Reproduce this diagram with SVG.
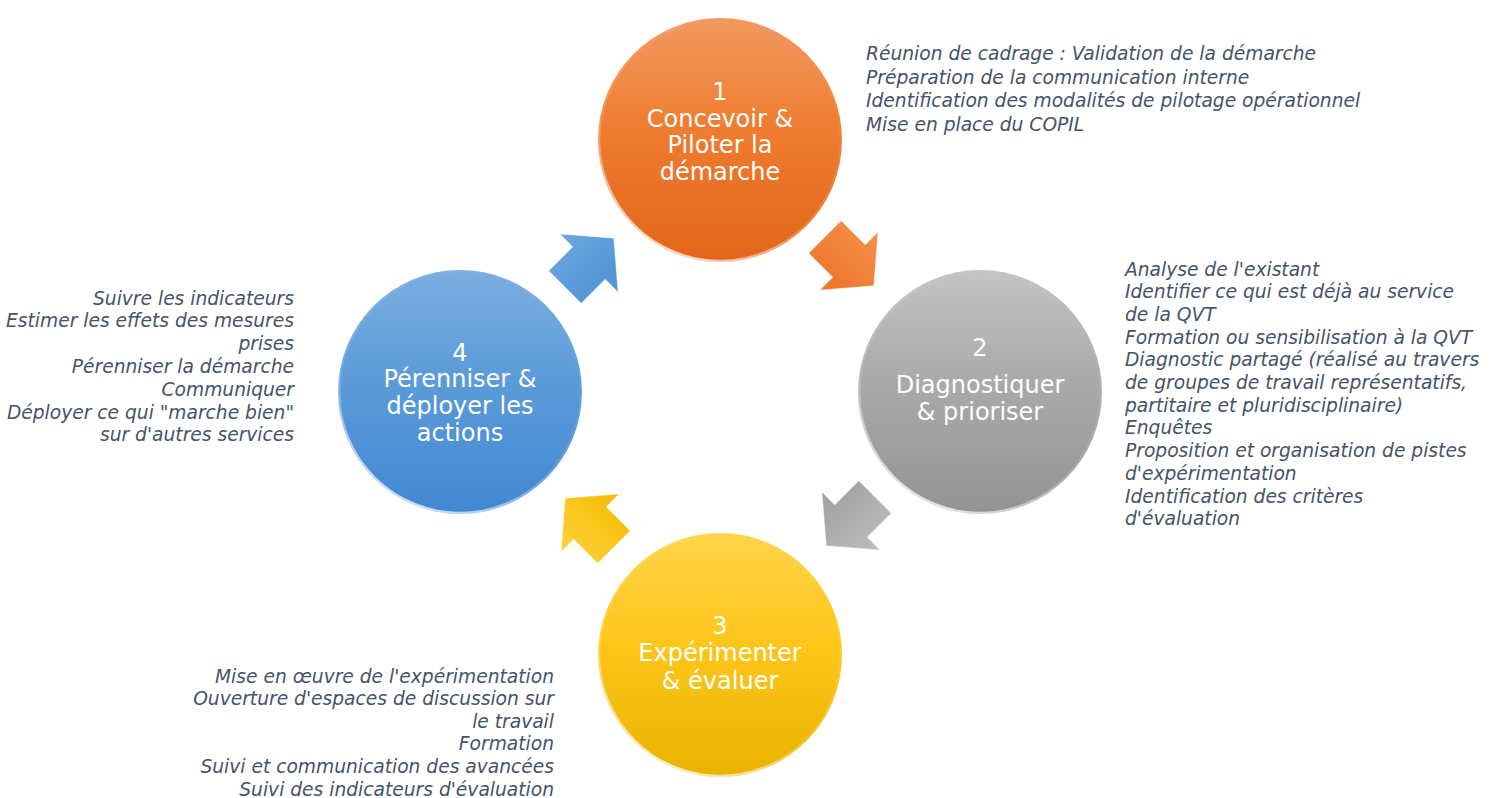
<svg xmlns="http://www.w3.org/2000/svg" xmlns:xlink="http://www.w3.org/1999/xlink" width="1495" height="798" viewBox="0 0 1495 798">
<defs>
<linearGradient id="gOrange" x1="0" y1="0" x2="0" y2="1"><stop offset="0" stop-color="#F39A60"/><stop offset="0.45" stop-color="#EF7C30"/><stop offset="1" stop-color="#E2661A"/></linearGradient>
<linearGradient id="gGray" x1="0" y1="0" x2="0" y2="1"><stop offset="0" stop-color="#C4C4C4"/><stop offset="0.45" stop-color="#AAAAAA"/><stop offset="1" stop-color="#939393"/></linearGradient>
<linearGradient id="gYellow" x1="0" y1="0" x2="0" y2="1"><stop offset="0" stop-color="#FFD54A"/><stop offset="0.45" stop-color="#FFC61A"/><stop offset="1" stop-color="#E9B300"/></linearGradient>
<linearGradient id="gBlue" x1="0" y1="0" x2="0" y2="1"><stop offset="0" stop-color="#7BAEE0"/><stop offset="0.45" stop-color="#5B9BD9"/><stop offset="1" stop-color="#4288D2"/></linearGradient>
<linearGradient id="rim" x1="0.7" y1="0" x2="0.2" y2="1"><stop offset="0" stop-color="#FFFFFF" stop-opacity="0"/><stop offset="0.6" stop-color="#FFFFFF" stop-opacity="0.15"/><stop offset="1" stop-color="#FFFFFF" stop-opacity="0.85"/></linearGradient>
<linearGradient id="aOrange" x1="0" y1="0" x2="0" y2="1"><stop offset="0" stop-color="#F58F4C"/><stop offset="1" stop-color="#EC7426"/></linearGradient>
<linearGradient id="aBlue" x1="0" y1="0" x2="0" y2="1"><stop offset="0" stop-color="#6DA7E0"/><stop offset="1" stop-color="#4E92D6"/></linearGradient>
<linearGradient id="aGray" x1="0" y1="0" x2="0" y2="1"><stop offset="0" stop-color="#BDBDBD"/><stop offset="1" stop-color="#A0A0A0"/></linearGradient>
<linearGradient id="aYellow" x1="0" y1="0" x2="0" y2="1"><stop offset="0" stop-color="#FFD13A"/><stop offset="1" stop-color="#F5BC00"/></linearGradient>
<path id="arrow" d="M-34,-23 L0,-23 L0,-41 L35,0 L0,41 L0,23 L-34,23 Z"/>
<style>
.ctext{font-family:"DejaVu Sans",Verdana,sans-serif;font-size:24px;fill:#FFFFFF;text-anchor:middle}
.desc{font-family:"DejaVu Sans",Verdana,sans-serif;font-size:18.67px;font-style:italic;fill:#44546A}
.rt{text-anchor:end}
.rim{fill:none;stroke:url(#rim);stroke-width:2.5}
.arr{stroke:#FFFFFF;stroke-opacity:0.35;stroke-width:1}
</style>
</defs>
<rect width="1495" height="798" fill="#FFFFFF"/>

<g id="connectors">
<use xlink:href="#arrow" href="#arrow" class="arr" fill="url(#aOrange)" transform="translate(849,261) rotate(45)"/>
<use xlink:href="#arrow" href="#arrow" class="arr" fill="url(#aGray)" transform="translate(851,521) rotate(135)"/>
<use xlink:href="#arrow" href="#arrow" class="arr" fill="url(#aYellow)" transform="translate(590,523) rotate(-135)"/>
<use xlink:href="#arrow" href="#arrow" class="arr" fill="url(#aBlue)" transform="translate(589,263) rotate(-45)"/>
</g>

<g id="node1">
<circle cx="720" cy="140" r="122" fill="url(#gOrange)"/>
<circle cx="720" cy="140" r="121" class="rim"/>
<text class="ctext"><tspan x="720" y="100">1</tspan><tspan x="720" y="126.5">Concevoir &amp;</tspan><tspan x="720" y="153">Piloter la</tspan><tspan x="720" y="179.5">démarche</tspan></text>
</g>

<g id="node2">
<circle cx="980" cy="392" r="122" fill="url(#gGray)"/>
<circle cx="980" cy="392" r="121" class="rim"/>
<text class="ctext"><tspan x="980" y="356">2</tspan><tspan x="980" y="393">Diagnostiquer</tspan><tspan x="980" y="420">&amp; prioriser</tspan></text>
</g>

<g id="node3">
<circle cx="720" cy="655" r="122" fill="url(#gYellow)"/>
<circle cx="720" cy="655" r="121" class="rim"/>
<text class="ctext"><tspan x="720" y="634">3</tspan><tspan x="720" y="661">Expérimenter</tspan><tspan x="720" y="689">&amp; évaluer</tspan></text>
</g>

<g id="node4">
<circle cx="460" cy="392" r="122" fill="url(#gBlue)"/>
<circle cx="460" cy="392" r="121" class="rim"/>
<text class="ctext"><tspan x="460" y="361">4</tspan><tspan x="460" y="387">Pérenniser &amp;</tspan><tspan x="460" y="414">déployer les</tspan><tspan x="460" y="441">actions</tspan></text>
</g>

<g id="desc1">
<text class="desc"><tspan x="866" y="60">Réunion de cadrage : Validation de la démarche</tspan><tspan x="866" y="83.5">Préparation de la communication interne</tspan><tspan x="866" y="107">Identification des modalités de pilotage opérationnel</tspan><tspan x="866" y="130.5">Mise en place du COPIL</tspan></text>
</g>

<g id="desc2">
<text class="desc"><tspan x="1125" y="275.5">Analyse de l'existant</tspan><tspan x="1125" y="298.2">Identifier ce qui est déjà au service</tspan><tspan x="1125" y="320.9">de la QVT</tspan><tspan x="1125" y="343.6">Formation ou sensibilisation à la QVT</tspan><tspan x="1125" y="366.3">Diagnostic partagé (réalisé au travers</tspan><tspan x="1125" y="389">de groupes de travail représentatifs,</tspan><tspan x="1125" y="411.7">partitaire et pluridisciplinaire)</tspan><tspan x="1125" y="434.4">Enquêtes</tspan><tspan x="1125" y="457.1">Proposition et organisation de pistes</tspan><tspan x="1125" y="479.8">d'expérimentation</tspan><tspan x="1125" y="502.5">Identification des critères</tspan><tspan x="1125" y="525.2">d'évaluation</tspan></text>
</g>

<g id="desc3">
<text class="desc rt"><tspan x="554" y="682.5">Mise en œuvre de l'expérimentation</tspan><tspan x="554" y="705.1">Ouverture d'espaces de discussion sur</tspan><tspan x="554" y="727.7">le travail</tspan><tspan x="554" y="750.3">Formation</tspan><tspan x="554" y="772.9">Suivi et communication des avancées</tspan><tspan x="554" y="795.5">Suivi des indicateurs d'évaluation</tspan></text>
</g>

<g id="desc4">
<text class="desc rt"><tspan x="294" y="304.5">Suivre les indicateurs</tspan><tspan x="294" y="327.3">Estimer les effets des mesures</tspan><tspan x="294" y="350.1">prises</tspan><tspan x="294" y="372.9">Pérenniser la démarche</tspan><tspan x="294" y="395.7">Communiquer</tspan><tspan x="294" y="418.5">Déployer ce qui "marche bien"</tspan><tspan x="294" y="441.3">sur d'autres services</tspan></text>
</g>
</svg>
